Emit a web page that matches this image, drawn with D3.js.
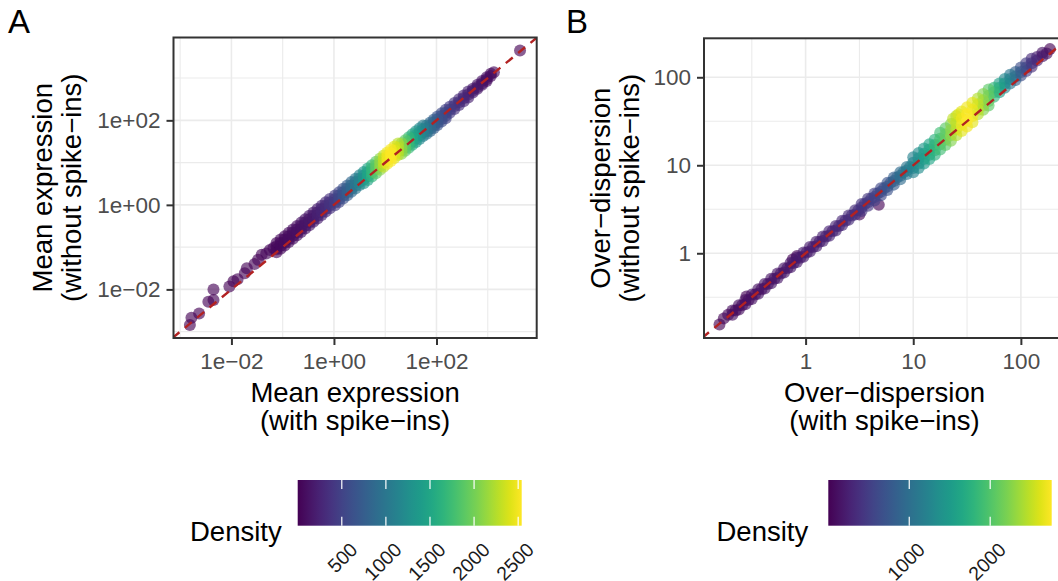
<!DOCTYPE html>
<html>
<head>
<meta charset="utf-8">
<script src="https://cdn.jsdelivr.net/npm/d3@7"></script>
<style>
    body { margin: 0; background: #ffffff; }
    svg text { font-family: "Liberation Sans", Arial, Helvetica, sans-serif; }
</style>
</head>
<body>
<svg id="fig" width="1058" height="581"></svg>
<script>
//---------------------------------//
// Data (log10 values, density)    //
//---------------------------------//

// Panel A: [log10 mean with spike-ins, log10 mean without spike-ins, density]
const meanRows = [
    [-2.81,-2.84,5],[-2.78,-2.67,8],[-2.63,-2.57,10],[-2.45,-2.29,12],[-2.35,-2.25,12],
    [-2.35,-2.00,10],[-2.04,-1.93,15],[-1.96,-1.81,18],[-1.88,-1.76,20],[-1.74,-1.62,22],
    [-1.70,-1.50,25],[-1.55,-1.40,28],[-1.48,-1.30,32],[-1.41,-1.18,36],[-1.32,-1.15,40],
    [-1.25,-1.07,42],[-1.18,-1.02,44],
    [-1.12,-0.90,45],[-1.12,-0.98,50],[-1.12,-1.05,50],[-1.12,-1.12,45],
    [-1.04,-0.82,55],[-1.04,-0.90,60],[-1.04,-0.97,60],[-1.04,-1.04,55],
    [-0.96,-0.74,65],[-0.96,-0.82,70],[-0.96,-0.89,70],[-0.96,-0.96,65],
    [-0.88,-0.66,75],[-0.88,-0.74,80],[-0.88,-0.81,80],[-0.88,-0.88,75],
    [-0.80,-0.58,85],[-0.80,-0.66,90],[-0.80,-0.73,90],[-0.80,-0.80,85],
    [-0.72,-0.50,95],[-0.72,-0.58,100],[-0.72,-0.65,100],[-0.72,-0.72,95],
    [-0.64,-0.42,110],[-0.64,-0.50,115],[-0.64,-0.57,115],[-0.64,-0.64,110],
    [-0.56,-0.34,125],[-0.56,-0.42,130],[-0.56,-0.49,130],[-0.56,-0.56,125],
    [-0.48,-0.26,140],[-0.48,-0.34,150],[-0.48,-0.41,150],[-0.48,-0.48,140],
    [-0.40,-0.18,165],[-0.40,-0.26,175],[-0.40,-0.33,175],[-0.40,-0.40,165],
    [-0.32,-0.10,200],[-0.32,-0.18,210],[-0.32,-0.25,210],[-0.32,-0.32,200],
    [-0.24,-0.02,240],[-0.24,-0.10,250],[-0.24,-0.17,250],[-0.24,-0.24,240],
    [-0.16,0.06,290],[-0.16,-0.02,300],[-0.16,-0.09,300],[-0.16,-0.16,290],
    [-0.08,0.14,350],[-0.08,0.06,360],[-0.08,-0.01,360],[-0.08,-0.08,350],
    [0.02,0.22,430],[0.02,0.14,440],[0.02,0.06,440],[0.02,-0.01,430],
    [0.10,0.30,520],[0.10,0.22,530],[0.10,0.14,530],[0.10,0.07,520],
    [0.18,0.38,620],[0.18,0.30,630],[0.18,0.22,630],[0.18,0.15,620],
    [0.26,0.46,730],[0.26,0.38,740],[0.26,0.30,740],[0.26,0.23,730],
    [0.34,0.54,850],[0.34,0.46,860],[0.34,0.38,860],[0.34,0.31,850],
    [0.42,0.62,980],[0.42,0.54,990],[0.42,0.46,990],[0.42,0.39,980],
    [0.50,0.70,1120],[0.50,0.62,1130],[0.50,0.54,1130],[0.50,0.47,1120],
    [0.58,0.78,1280],[0.58,0.69,1290],[0.58,0.60,1290],[0.58,0.51,1280],
    [0.66,0.86,1460],[0.66,0.77,1470],[0.66,0.68,1470],[0.66,0.59,1460],
    [0.74,0.94,1660],[0.74,0.85,1670],[0.74,0.76,1670],[0.74,0.67,1660],
    [0.82,1.02,1880],[0.82,0.93,1890],[0.82,0.84,1890],[0.82,0.75,1880],
    [0.90,1.10,2100],[0.90,1.01,2110],[0.90,0.92,2110],[0.90,0.83,2100],
    [0.97,1.17,2310],[0.97,1.08,2320],[0.97,0.99,2320],[0.97,0.90,2310],
    [1.04,1.24,2480],[1.04,1.15,2490],[1.04,1.06,2490],[1.04,0.97,2480],
    [1.11,1.31,2530],[1.11,1.22,2540],[1.11,1.13,2540],[1.11,1.04,2530],
    [1.18,1.38,2420],[1.18,1.29,2430],[1.18,1.20,2430],[1.18,1.11,2420],
    [1.25,1.45,2270],[1.25,1.36,2280],[1.25,1.27,2280],[1.25,1.18,2270],
    [1.32,1.46,2080],[1.32,1.37,2090],[1.32,1.29,2090],[1.32,1.21,2080],
    [1.39,1.53,1880],[1.39,1.44,1890],[1.39,1.36,1890],[1.39,1.28,1880],
    [1.46,1.60,1680],[1.46,1.51,1690],[1.46,1.43,1690],[1.46,1.35,1680],
    [1.53,1.67,1500],[1.53,1.58,1510],[1.53,1.50,1510],[1.53,1.42,1500],
    [1.60,1.74,1340],[1.60,1.65,1350],[1.60,1.57,1350],[1.60,1.49,1340],
    [1.67,1.81,1200],[1.67,1.72,1210],[1.67,1.64,1210],[1.67,1.56,1200],
    [1.74,1.88,1070],[1.74,1.79,1080],[1.74,1.71,1080],[1.74,1.63,1070],
    [1.81,1.88,950],[1.81,1.81,960],[1.81,1.74,960],[1.81,1.68,950],
    [1.88,1.95,840],[1.88,1.88,850],[1.88,1.81,850],[1.88,1.75,840],
    [1.95,2.02,740],[1.95,1.95,750],[1.95,1.88,750],[1.95,1.82,740],
    [2.02,2.09,650],[2.02,2.02,660],[2.02,1.95,660],[2.02,1.89,650],
    [2.10,2.17,570],[2.10,2.10,580],[2.10,2.03,580],[2.10,1.97,570],
    [2.18,2.25,490],[2.18,2.18,500],[2.18,2.11,500],[2.18,2.05,490],
    [2.26,2.32,420],[2.26,2.25,430],[2.26,2.18,420],
    [2.35,2.41,360],[2.35,2.34,370],[2.35,2.27,360],
    [2.44,2.50,300],[2.44,2.43,310],[2.44,2.36,300],
    [2.53,2.59,250],[2.53,2.52,260],[2.53,2.45,250],
    [2.62,2.68,210],[2.62,2.61,220],[2.62,2.54,210],
    [2.71,2.75,170],[2.71,2.70,180],[2.71,2.66,170],
    [2.80,2.84,140],[2.80,2.79,150],[2.80,2.75,140],
    [2.89,2.93,110],[2.89,2.88,120],[2.89,2.84,110],
    [2.98,3.02,85],[2.98,2.97,95],[2.98,2.93,85],
    [3.06,3.10,60],[3.06,3.05,70],
    [3.12,3.14,40],
    [3.63,3.65,3]
];

// Panel B: [log10 over-dispersion with spike-ins, log10 over-dispersion without, density]
const dispRows = [
    [-0.80,-0.81,8],[-0.76,-0.74,30],[-0.72,-0.70,60],
    [-0.68,-0.65,80],[-0.68,-0.70,90],[-0.65,-0.65,85],
    [-0.62,-0.59,90],[-0.62,-0.64,100],[-0.59,-0.59,95],
    [-0.56,-0.53,100],[-0.56,-0.58,110],[-0.53,-0.53,105],
    [-0.50,-0.47,110],[-0.50,-0.52,120],[-0.47,-0.47,115],
    [-0.44,-0.41,120],[-0.44,-0.46,130],[-0.41,-0.41,125],
    [-0.38,-0.35,130],[-0.38,-0.40,140],[-0.35,-0.35,135],
    [-0.32,-0.29,140],[-0.32,-0.34,150],[-0.29,-0.29,145],
    [-0.26,-0.23,150],[-0.26,-0.28,160],[-0.23,-0.23,155],
    [-0.20,-0.17,160],[-0.20,-0.22,170],[-0.17,-0.17,165],
    [-0.14,-0.11,170],[-0.14,-0.16,180],[-0.11,-0.11,175],
    [-0.08,-0.05,180],[-0.08,-0.10,190],[-0.05,-0.05,185],
    [-0.02,0.01,190],[-0.02,-0.04,200],[0.01,0.01,195],
    [0.04,0.07,200],[0.04,0.02,210],[0.07,0.07,205],
    [0.10,0.13,210],[0.10,0.08,220],[0.13,0.13,215],
    [0.16,0.19,230],[0.16,0.14,240],[0.19,0.19,235],
    [0.22,0.25,250],[0.22,0.20,260],[0.25,0.25,255],
    [0.28,0.31,270],[0.28,0.26,280],[0.31,0.31,275],
    [0.34,0.37,300],[0.34,0.32,310],[0.37,0.37,305],
    [0.40,0.43,330],[0.40,0.38,340],[0.43,0.43,335],
    [0.46,0.49,360],[0.46,0.44,370],[0.49,0.49,375],
    [-0.55,-0.49,15],[-0.12,-0.07,20],[-0.08,-0.03,20],[0.50,0.44,30],[0.68,0.55,25],
    [0.52,0.56,390],[0.52,0.52,410],[0.52,0.48,395],[0.55,0.56,430],
    [0.58,0.62,440],[0.58,0.58,460],[0.58,0.54,445],[0.61,0.62,480],
    [0.64,0.68,510],[0.64,0.64,530],[0.64,0.60,515],[0.67,0.68,555],
    [0.70,0.74,590],[0.70,0.70,615],[0.70,0.66,595],[0.73,0.74,650],
    [0.76,0.80,690],[0.76,0.76,715],[0.76,0.72,695],[0.79,0.80,760],
    [0.82,0.86,810],[0.82,0.82,835],[0.82,0.78,815],[0.85,0.86,890],
    [0.88,0.92,950],[0.88,0.88,975],[0.88,0.84,955],[0.91,0.92,1030],
    [0.94,0.98,1090],[0.94,0.94,1115],[0.94,0.90,1095],[0.97,0.98,1150],
    [1.00,1.09,1210],[1.00,1.03,1240],[1.00,0.97,1240],[1.00,0.92,1210],
    [1.05,1.14,1340],[1.05,1.08,1370],[1.05,1.02,1370],[1.05,0.97,1340],
    [1.10,1.19,1470],[1.10,1.13,1500],[1.10,1.07,1500],[1.10,1.02,1470],
    [1.15,1.24,1610],[1.15,1.18,1640],[1.15,1.12,1640],[1.15,1.07,1610],
    [1.20,1.29,1750],[1.20,1.23,1780],[1.20,1.17,1780],[1.20,1.12,1750],
    [1.25,1.37,1890],[1.25,1.30,1930],[1.25,1.24,1930],[1.25,1.18,1890],
    [1.30,1.42,2040],[1.30,1.35,2090],[1.30,1.29,2090],[1.30,1.23,2040],
    [1.35,1.47,2240],[1.35,1.40,2290],[1.35,1.34,2290],[1.35,1.28,2240],
    [1.37,1.53,2500],[1.42,1.58,2600],
    [1.40,1.56,2440],[1.40,1.48,2500],[1.40,1.41,2500],[1.40,1.34,2440],
    [1.45,1.61,2640],[1.45,1.53,2700],[1.45,1.46,2700],[1.45,1.39,2640],
    [1.50,1.66,2700],[1.50,1.58,2760],[1.50,1.51,2760],[1.50,1.44,2700],
    [1.55,1.71,2640],[1.55,1.63,2690],[1.55,1.56,2690],[1.55,1.49,2640],
    [1.60,1.76,2440],[1.60,1.69,2490],[1.60,1.63,2490],[1.60,1.58,2440],
    [1.65,1.81,2240],[1.65,1.74,2290],[1.65,1.68,2290],[1.65,1.63,2240],
    [1.70,1.86,2040],[1.70,1.79,2090],[1.70,1.73,2090],[1.70,1.68,2040],
    [1.75,1.88,1790],[1.75,1.83,1830],[1.75,1.78,1795],
    [1.80,1.93,1540],[1.80,1.88,1580],[1.80,1.83,1545],
    [1.85,1.98,1290],[1.85,1.93,1330],[1.85,1.88,1295],
    [1.90,2.03,1070],[1.90,1.98,1100],[1.90,1.93,1075],
    [1.95,2.06,840],[1.95,2.01,870],[1.95,1.97,845],
    [2.00,2.11,640],[2.00,2.06,670],[2.00,2.02,645],
    [2.05,2.16,470],[2.05,2.11,500],[2.05,2.07,475],
    [2.10,2.21,330],[2.10,2.16,350],[2.10,2.12,335],
    [2.15,2.23,220],[2.15,2.19,240],
    [2.20,2.28,140],[2.20,2.24,160],
    [2.24,2.27,80],
    [2.27,2.32,5]
];

const meanTicks = [-2, 0, 2];
const meanMinor = [-3, -1, 1, 3];
const meanTickLabels = ['1e\u221202', '1e+00', '1e+02'];
const dispTicks = [0, 1, 2];
const dispMinor = [-0.5, 0.5, 1.5];
const dispTickLabels = ['1', '10', '100'];

const meanDensityMax = 2540;
const meanDensityTicks = [500, 1000, 1500, 2000, 2500];
const dispDensityMax = 2760;
const dispDensityTicks = [1000, 2000];

const meanXTitle = ['Mean expression', '(with spike\u2212ins)'];
const meanYTitle = ['Mean expression', '(without spike\u2212ins)'];
const dispXTitle = ['Over\u2212dispersion', '(with spike\u2212ins)'];
const dispYTitle = ['Over\u2212dispersion', '(without spike\u2212ins)'];

//---------------------------------//
// Figure object                   //
//---------------------------------//

window.Fig = window.Fig || {};

Fig.init = function() {
    Fig.svg = d3.select('#fig');
    Fig.svg.append('rect').attr('width', 1058).attr('height', 581).attr('fill', '#ffffff');
    Fig.defs = Fig.svg.append('defs');

    Fig.setup.initGradient();
    Fig.setup.initPanels();

    Fig.panels.forEach(function(p) {
        Fig.draw.panel(p);
        Fig.draw.legend(p);
    });
};

Fig.setup = {
    initGradient: function() {                      //viridis colourbar fill
        var grad = Fig.defs.append('linearGradient').attr('id', 'viridis')
                      .attr('x1', '0%').attr('x2', '100%').attr('y1', '0%').attr('y2', '0%');
        d3.range(0, 1.0001, 0.05).forEach(function(t) {
            grad.append('stop').attr('offset', (t * 100) + '%').attr('stop-color', d3.interpolateViridis(t));
        });
    },

    initPanels: function() {
        Fig.panels = [
            {
                tag: 'A', tagX: 8,
                rows: meanRows, left: 173.5, right: 536.7, top: 37.5, bottom: 338,
                xDomain: [-3.13, 3.955], yDomain: [-3.15, 3.96],
                major: meanTicks, minor: meanMinor, labels: meanTickLabels,
                xTitle: meanXTitle, yTitle: meanYTitle, yTitleX: [51.5, 81],
                densityMax: meanDensityMax, densityTicks: meanDensityTicks,
                barLeft: 297.7, barRight: 521.7, densityX: 190
            },
            {
                tag: 'B', tagX: 566,
                rows: dispRows, left: 704, right: 1065, top: 38.3, bottom: 338,
                xDomain: [-0.944, 2.41], yDomain: [-0.963, 2.443],
                major: dispTicks, minor: dispMinor, labels: dispTickLabels,
                xTitle: dispXTitle, yTitle: dispYTitle, yTitleX: [610, 638.5],
                densityMax: dispDensityMax, densityTicks: dispDensityTicks,
                barLeft: 828.3, barRight: 1051.7, densityX: 716.5
            }
        ];
    }
};

Fig.draw = {
    panel: function(p) {
        var g = Fig.svg.append('g');
        var x = d3.scaleLinear().domain(p.xDomain).range([p.left, p.right]);
        var y = d3.scaleLinear().domain(p.yDomain).range([p.bottom, p.top]);
        var colour = d3.scaleSequential(d3.interpolateViridis).domain([0, p.densityMax]);

        var clipId = 'clip' + p.tag;
        Fig.defs.append('clipPath').attr('id', clipId)
            .append('rect').attr('x', p.left).attr('y', p.top)
            .attr('width', p.right - p.left).attr('height', p.bottom - p.top);

        // grid: minor first, then major
        var grid = g.append('g').attr('clip-path', 'url(#' + clipId + ')');
        [[p.minor, 1.1], [p.major, 1.6]].forEach(function(set) {
            set[0].forEach(function(v) {
                grid.append('line').attr('x1', x(v)).attr('x2', x(v)).attr('y1', p.top).attr('y2', p.bottom)
                    .attr('stroke', '#ebebeb').attr('stroke-width', set[1]);
                grid.append('line').attr('x1', p.left).attr('x2', p.right).attr('y1', y(v)).attr('y2', y(v))
                    .attr('stroke', '#ebebeb').attr('stroke-width', set[1]);
            });
        });

        // points, densest on top
        var rows = p.rows.slice().sort(function(a, b) { return a[2] - b[2]; });
        var plot = g.append('g').attr('clip-path', 'url(#' + clipId + ')');
        plot.selectAll('circle').data(rows).enter().append('circle')
            .attr('cx', function(d) { return x(d[0]); })
            .attr('cy', function(d) { return y(d[1]); })
            .attr('r', 6)
            .attr('fill', function(d) { return colour(d[2]); })
            .attr('fill-opacity', 0.63);

        // identity line
        var lo = Math.min(p.xDomain[0], p.yDomain[0]);
        var hi = Math.max(p.xDomain[1], p.yDomain[1]);
        plot.append('line')
            .attr('x1', x(lo)).attr('y1', y(lo)).attr('x2', x(hi)).attr('y2', y(hi))
            .attr('stroke', '#b22222').attr('stroke-width', 2.4).attr('stroke-dasharray', '9,7');

        // panel border
        g.append('rect').attr('x', p.left).attr('y', p.top)
            .attr('width', p.right - p.left).attr('height', p.bottom - p.top)
            .attr('fill', 'none').attr('stroke', '#333333').attr('stroke-width', 2);

        // axes
        var fmt = function(d, i) { return p.labels[i]; };
        var xAxis = g.append('g').attr('transform', 'translate(0,' + p.bottom + ')')
            .call(d3.axisBottom(x).tickValues(p.major).tickFormat(fmt).tickSize(7).tickPadding(8));
        var yAxis = g.append('g').attr('transform', 'translate(' + p.left + ',0)')
            .call(d3.axisLeft(y).tickValues(p.major).tickFormat(fmt).tickSize(7).tickPadding(6));
        [xAxis, yAxis].forEach(function(ax) {
            ax.attr('font-family', null).attr('font-size', null);
            ax.select('.domain').remove();
            ax.selectAll('.tick line').attr('stroke', '#333333').attr('stroke-width', 2);
            ax.selectAll('.tick text').attr('fill', '#4d4d4d').style('font-size', '22.5px');
        });

        // titles
        var cx = (p.left + p.right) / 2;
        var cy = (p.top + p.bottom) / 2;
        [401.5, 430].forEach(function(by, i) {
            g.append('text').attr('x', cx).attr('y', by).attr('text-anchor', 'middle')
                .style('font-size', '27.5px').attr('fill', '#000').text(p.xTitle[i]);
        });
        p.yTitleX.forEach(function(bx, i) {
            g.append('text').attr('transform', 'translate(' + bx + ',' + cy + ') rotate(-90)')
                .attr('text-anchor', 'middle')
                .style('font-size', '27.5px').attr('fill', '#000').text(p.yTitle[i]);
        });

        g.append('text').attr('x', p.tagX).attr('y', 33).style('font-size', '33px')
            .attr('fill', '#000').text(p.tag);
    },

    legend: function(p) {
        var g = Fig.svg.append('g');
        var top = 480, bottom = 525.7;
        var lx = d3.scaleLinear().domain([0, p.densityMax]).range([p.barLeft, p.barRight]);

        g.append('rect').attr('x', p.barLeft).attr('y', top)
            .attr('width', p.barRight - p.barLeft).attr('height', bottom - top)
            .attr('fill', 'url(#viridis)');

        p.densityTicks.forEach(function(v) {
            g.append('line').attr('x1', lx(v)).attr('x2', lx(v)).attr('y1', top).attr('y2', top + 9)
                .attr('stroke', '#ffffff').attr('stroke-width', 1.2);
            g.append('line').attr('x1', lx(v)).attr('x2', lx(v)).attr('y1', bottom - 9).attr('y2', bottom)
                .attr('stroke', '#ffffff').attr('stroke-width', 1.2);
            g.append('text').attr('transform', 'translate(' + (lx(v) + 17) + ',551) rotate(-45)')
                .attr('text-anchor', 'end').style('font-size', '19.5px').attr('fill', '#1a1a1a')
                .text(v);
        });

        g.append('text').attr('x', p.densityX).attr('y', 541).style('font-size', '27.5px')
            .attr('fill', '#000').text('Density');
    }
};

document.addEventListener('DOMContentLoaded', Fig.init);
</script>
</body>
</html>
